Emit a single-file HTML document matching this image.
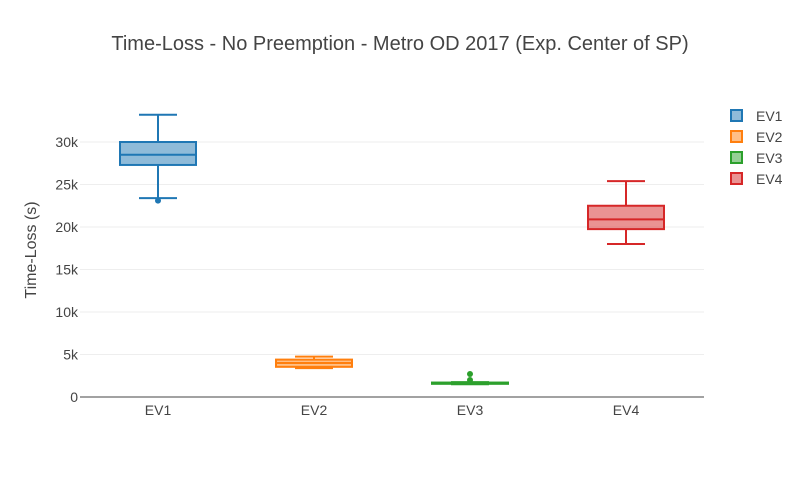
<!DOCTYPE html>
<html><head><meta charset="utf-8"><style>
body{margin:0;background:#fff;font-family:"Liberation Sans",sans-serif}
svg text{font-family:"Liberation Sans",sans-serif}
</style></head><body>
<svg id="c" width="800" height="480">
<text x="400" y="50" text-anchor="middle" font-size="20" fill="#444">Time-Loss - No Preemption - Metro OD 2017 (Exp. Center of SP)</text>
<text transform="translate(36,250) rotate(-90)" text-anchor="middle" font-size="16" fill="#444">Time-Loss (s)</text>
<g id="grid"></g><g id="marks"></g><g id="legend"></g>
</svg>
<script>
const categories=["EV1","EV2","EV3","EV4"];
const lowerWhisker=[23400,3400,1500,18000];
const q1=[27300,3550,1550,19750];
const median=[28500,4000,1600,20900];
const q3=[30000,4400,1700,22500];
const upperWhisker=[33200,4750,1750,25400];
const outliers=[[23100],[],[2700,2000],[]];
const yTicks=[0,5000,10000,15000,20000,25000,30000];
const yTickLabels=["0","5k","10k","15k","20k","25k","30k"];
const colors=["#1f77b4","#ff7f0e","#2ca02c","#d62728"];
const fills=["rgba(31,119,180,0.5)","rgba(255,127,14,0.5)","rgba(44,160,44,0.5)","rgba(214,39,40,0.5)"];
const NS="http://www.w3.org/2000/svg";
const X0=80,X1=704,Y0=397,PX=255/30000;
const y=v=>Y0-v*PX;
const band=(X1-X0)/categories.length;
const x=i=>X0+band*(i+0.5);
function mk(p,t,a){const e=document.createElementNS(NS,t);for(const k in a)e.setAttribute(k,a[k]);p.appendChild(e);return e;}
const grid=document.getElementById('grid'),marks=document.getElementById('marks'),leg=document.getElementById('legend');
yTicks.forEach((t,i)=>{
 if(t>0){const l=mk(grid,'line',{x1:X0,x2:X1,y1:y(t),y2:y(t),stroke:'#eee','stroke-width':1});
 
 }
 const tx=mk(grid,'text',{x:X0-2,y:y(t)+5,'text-anchor':'end','font-size':14,fill:'#444'});tx.textContent=yTickLabels[i];
 
 
});
const ax=mk(grid,'line',{x1:X0,x2:X1,y1:Y0,y2:Y0,stroke:'#444','stroke-width':1});


categories.forEach((c,i)=>{
 const cx=x(i),hw=38,cw=19,col=colors[i];
 const g=mk(marks,'g',{});
 
 
 mk(g,'line',{x1:cx,x2:cx,y1:y(upperWhisker[i]),y2:y(q3[i]),stroke:col,'stroke-width':2});
 mk(g,'line',{x1:cx,x2:cx,y1:y(q1[i]),y2:y(lowerWhisker[i]),stroke:col,'stroke-width':2});
 mk(g,'line',{x1:cx-cw,x2:cx+cw,y1:y(upperWhisker[i]),y2:y(upperWhisker[i]),stroke:col,'stroke-width':2});
 mk(g,'line',{x1:cx-cw,x2:cx+cw,y1:y(lowerWhisker[i]),y2:y(lowerWhisker[i]),stroke:col,'stroke-width':2});
 mk(g,'rect',{x:cx-hw,y:y(q3[i]),width:hw*2,height:Math.max(1,y(q1[i])-y(q3[i])),fill:fills[i],stroke:col,'stroke-width':2});
 mk(g,'line',{x1:cx-hw,x2:cx+hw,y1:y(median[i]),y2:y(median[i]),stroke:col,'stroke-width':2});
 outliers[i].forEach(o=>{const d=mk(g,'circle',{cx:cx,cy:y(o),r:3,fill:col});
  
  });
 const t=mk(marks,'text',{x:cx,y:415,'text-anchor':'middle','font-size':14,fill:'#444'});t.textContent=c;
 
 
 const le=mk(leg,'g',{});
 
 
 mk(le,'rect',{x:731,y:110+i*21,width:11,height:11,fill:fills[i],stroke:col,'stroke-width':2});
 const lt=mk(le,'text',{x:756,y:121+i*21,'font-size':14,fill:'#444'});lt.textContent=c;
});
</script>
</body></html>
